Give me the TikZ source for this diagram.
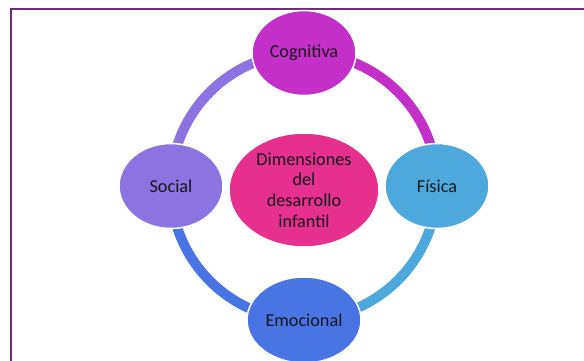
\documentclass[tikz,border=0pt]{standalone}
\usepackage{fontspec}
\setmainfont{Carlito}
\usetikzlibrary{positioning, shapes.geometric, backgrounds}
\definecolor{framecol}{RGB}{110,44,116}
\definecolor{centrocol}{RGB}{229,48,142}
\definecolor{cogcol}{RGB}{196,47,200}
\definecolor{fiscol}{RGB}{79,168,220}
\definecolor{emocol}{RGB}{72,116,228}
\definecolor{soccol}{RGB}{140,115,224}

\begin{document}
\begin{tikzpicture}[x=1pt, y=-1pt, font=\fontsize{18.2}{20.6}\selectfont,
    dim/.style={ellipse, draw=white, line width=1.5pt, text=black!90, minimum width=104pt, minimum height=85pt, inner sep=0pt},
    ring/.style={line width=10pt}]
    \useasboundingbox (0,0) rectangle (584,360);
    \draw[framecol, line width=2pt] (11,362) -- (11,9) -- (586,9);

    \node (centro) [dim, fill=centrocol, minimum width=150pt, minimum height=114pt, align=center] at (304,190) {Dimensiones\\del\\desarrollo\\infantil};
    \node (cognitiva) [dim, fill=cogcol] at (304,53) {Cognitiva};
    \node (fisica) [dim, fill=fiscol] at (437,186) {Física};
    \node (emocional) [dim, fill=emocol, minimum width=114pt, minimum height=86pt] at (304,320) {Emocional};
    \node (social) [dim, fill=soccol] at (171,186) {Social};

    % ring between the dimensions
    \begin{scope}[on background layer]
        \draw[ring, cogcol] (cognitiva.center) arc[start angle=90, end angle=0, radius=133pt];
        \draw[ring, fiscol] (fisica.center) arc[start angle=0, end angle=-90, radius=133pt];
        \draw[ring, emocol] (emocional.center) arc[start angle=270, end angle=180, radius=133pt];
        \draw[ring, soccol] (social.center) arc[start angle=180, end angle=90, radius=133pt];
    \end{scope}
\end{tikzpicture}
\end{document}
